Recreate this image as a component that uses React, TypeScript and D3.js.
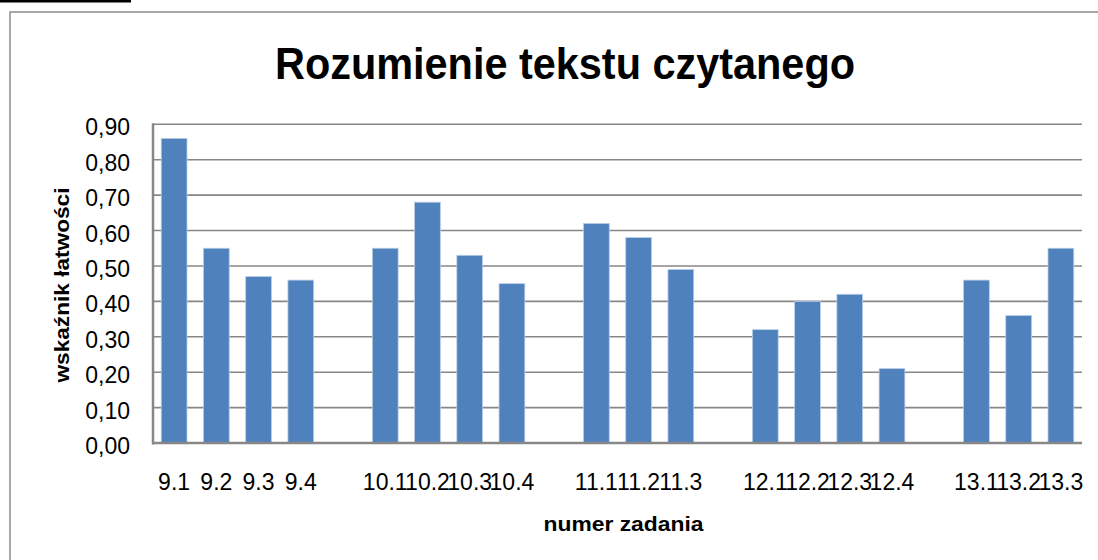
import React from "react";
import * as d3 from "d3";

const categories = ["9.1","9.2","9.3","9.4","","10.1","10.2","10.3","10.4","","11.1","11.2","11.3","","12.1","12.2","12.3","12.4","","13.1","13.2","13.3"];
const values: (number | null)[] = [0.86,0.55,0.47,0.46,null,0.55,0.68,0.53,0.45,null,0.62,0.58,0.49,null,0.32,0.40,0.42,0.21,null,0.46,0.36,0.55];
const yTicks = [0,0.1,0.2,0.3,0.4,0.5,0.6,0.7,0.8,0.9];
const title = "Rozumienie tekstu czytanego";
const yTitle = "wskaźnik łatwości";
const xTitle = "numer zadania";

const W = 1098, H = 560;
const plot = { left: 153, right: 1082, top: 124.3, bottom: 443 };
const font = "'Liberation Sans', Arial, sans-serif";

export default function App() {
  const x = d3.scaleBand<number>().domain(d3.range(categories.length)).range([plot.left, plot.right]).paddingInner(0.39).paddingOuter(0.195);
  const y = d3.scaleLinear().domain([0, 0.9]).range([plot.bottom, plot.top]);
  const fmt = (v: number) => v.toFixed(2).replace(".", ",");
  const slot = (plot.right - plot.left) / categories.length;
  return (
    <svg width={W} height={H} style={{ position: "absolute", left: 0, top: 0, background: "#fff" }} fontFamily={font}>
      <rect x={0} y={0} width={W} height={H} fill="#fff" />
      <rect x={0} y={0} width={131} height={2.5} fill="#000" />
      <rect x={10} y={12} width={1100} height={560} fill="none" stroke="#8c8c8c" strokeWidth={1.5} />
      <text x={565} y={79} fontSize={45} fontWeight="bold" textAnchor="middle" textLength={580} lengthAdjust="spacingAndGlyphs" fill="#000">{title}</text>
      {yTicks.map((t) => (
        <g key={t}>
          {t > 0 && <line x1={plot.left} x2={plot.right} y1={y(t)} y2={y(t)} stroke="#878787" strokeWidth={1.6} />}
          <text x={130} y={y(t) + 11} fontSize={23} textAnchor="end" fill="#000">{fmt(t)}</text>
        </g>
      ))}
      {values.map((v, i) => v == null ? null : (
        <rect key={i} x={x(i)} y={y(v)} width={x.bandwidth()} height={plot.bottom - y(v)} fill="#4F81BD" stroke="#b9cde5" strokeWidth={0.8} />
      ))}
      <line x1={plot.left} x2={plot.left} y1={plot.top - 1} y2={plot.bottom + 1.5} stroke="#878787" strokeWidth={2.5} />
      <line x1={plot.left - 1} x2={plot.right} y1={plot.bottom} y2={plot.bottom} stroke="#878787" strokeWidth={2.5} />
      {categories.map((c, i) => c === "" ? null : (
        <text key={i} x={(x(i) as number) + x.bandwidth() / 2} y={490} fontSize={23} textAnchor="middle" fill="#000">{c}</text>
      ))}
      <text x={623.5} y={531} fontSize={20} fontWeight="bold" textAnchor="middle" textLength={160} lengthAdjust="spacingAndGlyphs" fill="#000">{xTitle}</text>
      <text transform={`translate(69,285) rotate(-90)`} fontSize={20} fontWeight="bold" textAnchor="middle" textLength={195} lengthAdjust="spacingAndGlyphs" fill="#000">{yTitle}</text>
    </svg>
  );
}
